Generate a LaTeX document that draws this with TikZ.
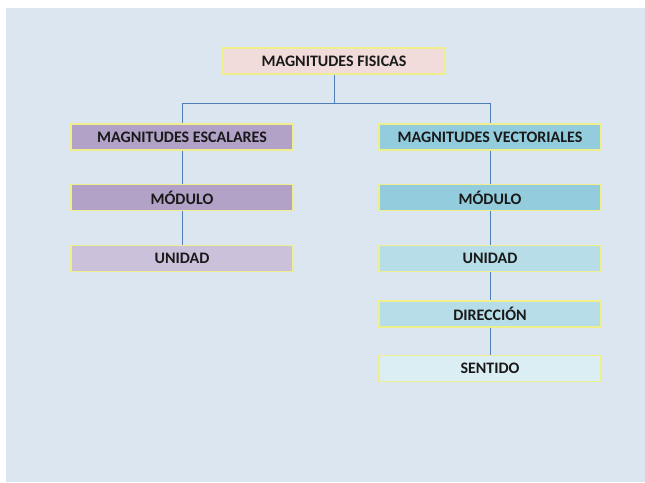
\documentclass[tikz,border=0pt]{standalone}
\usepackage{fontspec}
\setmainfont{Carlito}
\definecolor{bgc}{HTML}{DCE6F0}
\definecolor{edgey}{HTML}{EEEE8C}
\definecolor{linec}{HTML}{4F7DB5}
\definecolor{pinkf}{HTML}{F2DCDB}
\definecolor{purA}{HTML}{B3A2C7}
\definecolor{purB}{HTML}{CCC1DA}
\definecolor{cyanA}{HTML}{93CDDD}
\definecolor{cyanB}{HTML}{B7DEE8}
\definecolor{cyanC}{HTML}{DBEEF4}
\tikzset{
  box/.style={draw=edgey, line width=1.6pt, minimum width=222pt, minimum height=26pt, inner sep=0pt,
    font=\fontsize{16}{18}\selectfont\bfseries, text=black!90},
  conn/.style={draw=linec, line width=0.9pt}
}
\begin{document}
\begin{tikzpicture}[x=1pt,y=-1pt]
\useasboundingbox (0,0) rectangle (645,482);
\fill[white] (0,0) rectangle (645,482);
\fill[bgc] (6,8) rectangle (645,482);
\coordinate (jl) at (182,103);
\coordinate (jr) at (490,103);
\coordinate (jc) at (334,103);
\node[box, fill=pinkf] (top) at (334,61) {MAGNITUDES FISICAS};
\node[box, fill=purA] (esc) at (182,137) {MAGNITUDES ESCALARES};
\node[box, fill=purA] (modl) at (182,197.5) {MÓDULO};
\node[box, fill=purB] (unil) at (182,258.5) {UNIDAD};
\node[box, fill=cyanA] (vec) at (490,137) {MAGNITUDES VECTORIALES};
\node[box, fill=cyanA] (modr) at (490,197.5) {MÓDULO};
\node[box, fill=cyanB] (unir) at (490,258.5) {UNIDAD};
\node[box, fill=cyanB] (dir) at (490,314) {DIRECCIÓN};
\node[box, fill=cyanC] (sen) at (490,368.5) {SENTIDO};
\draw[conn] (top.south) -- (jc);
\draw[conn] (jl) -- (jr);
\draw[conn] (jl) -- (esc.north);
\draw[conn] (jr) -- (vec.north);
\draw[conn] (esc.south) -- (modl.north);
\draw[conn] (modl.south) -- (unil.north);
\draw[conn] (vec.south) -- (modr.north);
\draw[conn] (modr.south) -- (unir.north);
\draw[conn] (unir.south) -- (dir.north);
\draw[conn] (dir.south) -- (sen.north);
\end{tikzpicture}
\end{document}
